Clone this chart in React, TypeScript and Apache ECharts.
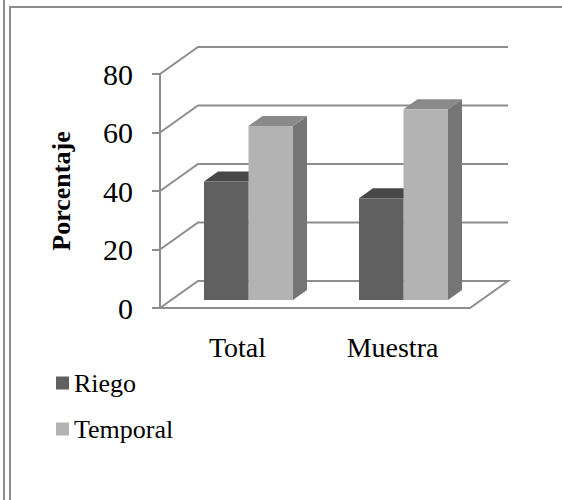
import React, { useEffect, useRef } from "react";
import * as echarts from "echarts";

const categories = ["Total", "Muestra"];
const riego = [40.5, 34.8];
const temporal = [59.5, 65.2];
const yTicks = [0, 20, 40, 60, 80];

const FONT = "'Liberation Serif', 'Times New Roman', serif";
const WALL_DX = 38;
const WALL_DY = -27;
const BAR_OFF_DX = 11;
const BAR_OFF_DY = -8;
const BAR_DX = 14;
const BAR_DY = -10;
const BAR_W = 44.5;
const GRID_COLOR = "#8d8d8d";

const barColors = [
  { front: "#606060", top: "#474747", side: "#444444" },
  { front: "#b3b3b3", top: "#8a8a8a", side: "#757575" },
];

function makeBarRender(s: number) {
  return (params: any, api: any) => {
    const idx = api.value(0);
    const v = api.value(1);
    const top = api.coord([idx, v]);
    const base = api.coord([idx, 0]);
    const cx = top[0];
    const xl = (s === 0 ? cx - BAR_W : cx) + BAR_OFF_DX;
    const xr = xl + BAR_W;
    const yt = top[1] + BAR_OFF_DY;
    const yb = base[1] + BAR_OFF_DY;
    const c = barColors[s];
    return {
      type: "group",
      children: [
        {
          type: "polygon",
          shape: { points: [[xr, yt], [xr + BAR_DX, yt + BAR_DY], [xr + BAR_DX, yb + BAR_DY], [xr, yb]] },
          style: { fill: c.side },
        },
        {
          type: "polygon",
          shape: { points: [[xl, yt], [xr, yt], [xr + BAR_DX, yt + BAR_DY], [xl + BAR_DX, yt + BAR_DY]] },
          style: { fill: c.top },
        },
        {
          type: "rect",
          shape: { x: xl, y: yt, width: BAR_W, height: yb - yt },
          style: { fill: c.front },
        },
      ],
    };
  };
}

function wallRender(params: any, api: any) {
  const cs = params.coordSys;
  const v = api.value(1);
  const y = api.coord([0, v])[1];
  const x0 = cs.x;
  const w = cs.width;
  const pts: number[][] = [
    [x0, y],
    [x0 + WALL_DX, y + WALL_DY],
    [x0 + w + WALL_DX, y + WALL_DY],
  ];
  if (v === 0) pts.push([x0 + w, y]);
  return {
    type: "polyline",
    shape: { points: pts },
    style: { stroke: GRID_COLOR, lineWidth: 2, fill: "none" },
  };
}

export default function App() {
  const ref = useRef<HTMLDivElement>(null);
  useEffect(() => {
    if (!ref.current) return;
    const chart = echarts.init(ref.current, null, { renderer: "svg" });
    chart.setOption({
      animation: false,
      backgroundColor: "#ffffff",
      grid: { left: 160, right: 92, top: 74, bottom: 192, containLabel: false },
      legend: {
        data: ["Riego", "Temporal"],
        orient: "vertical",
        left: 51,
        top: 365,
        itemWidth: 13,
        itemHeight: 13,
        itemGap: 20,
        icon: "rect",
        textStyle: { fontSize: 26, fontFamily: FONT, color: "#000" },
      },
      xAxis: {
        type: "category",
        data: categories,
        axisLine: { show: true, lineStyle: { color: GRID_COLOR, width: 2 } },
        axisTick: { show: false },
        axisLabel: { fontSize: 28, fontFamily: FONT, color: "#000", margin: 25 },
        splitLine: { show: false },
      },
      yAxis: {
        type: "value",
        min: 0,
        max: 80,
        interval: 20,
        name: "Porcentaje",
        nameLocation: "middle",
        nameRotate: 90,
        nameGap: 86,
        nameTextStyle: { fontSize: 26, fontWeight: "bold", fontFamily: FONT, color: "#000" },
        axisLine: { show: true, lineStyle: { color: GRID_COLOR, width: 2 } },
        axisTick: { show: true, length: 8, lineStyle: { color: GRID_COLOR, width: 2 } },
        axisLabel: { fontSize: 30, fontFamily: FONT, color: "#000", margin: 27 },
        splitLine: { show: false },
      },
      graphic: [
        { type: "line", shape: { x1: 4, y1: 0, x2: 4, y2: 500 }, style: { stroke: "#8c8c8c", lineWidth: 2 } },
        { type: "line", shape: { x1: 10, y1: 6, x2: 10, y2: 500 }, style: { stroke: "#8c8c8c", lineWidth: 2 } },
        { type: "line", shape: { x1: 9, y1: 7, x2: 600, y2: 7 }, style: { stroke: "#8c8c8c", lineWidth: 2 } },
      ],
      series: [
        {
          type: "custom",
          name: "wall",
          z: 1,
          clip: false,
          silent: true,
          renderItem: wallRender,
          encode: { x: 0, y: 1 },
          data: yTicks.map((v) => [0, v]),
        },
        {
          type: "custom",
          name: "Riego",
          z: 3,
          clip: false,
          itemStyle: { color: barColors[0].front },
          renderItem: makeBarRender(0),
          encode: { x: 0, y: 1 },
          data: riego.map((v, i) => [i, v]),
        },
        {
          type: "custom",
          name: "Temporal",
          z: 4,
          clip: false,
          itemStyle: { color: barColors[1].front },
          renderItem: makeBarRender(1),
          encode: { x: 0, y: 1 },
          data: temporal.map((v, i) => [i, v]),
        },
      ],
    });
    return () => chart.dispose();
  }, []);
  return (
    <div
      ref={ref}
      style={{ position: "absolute", left: 0, top: 0, width: 562, height: 500, overflow: "hidden" }}
    />
  );
}
